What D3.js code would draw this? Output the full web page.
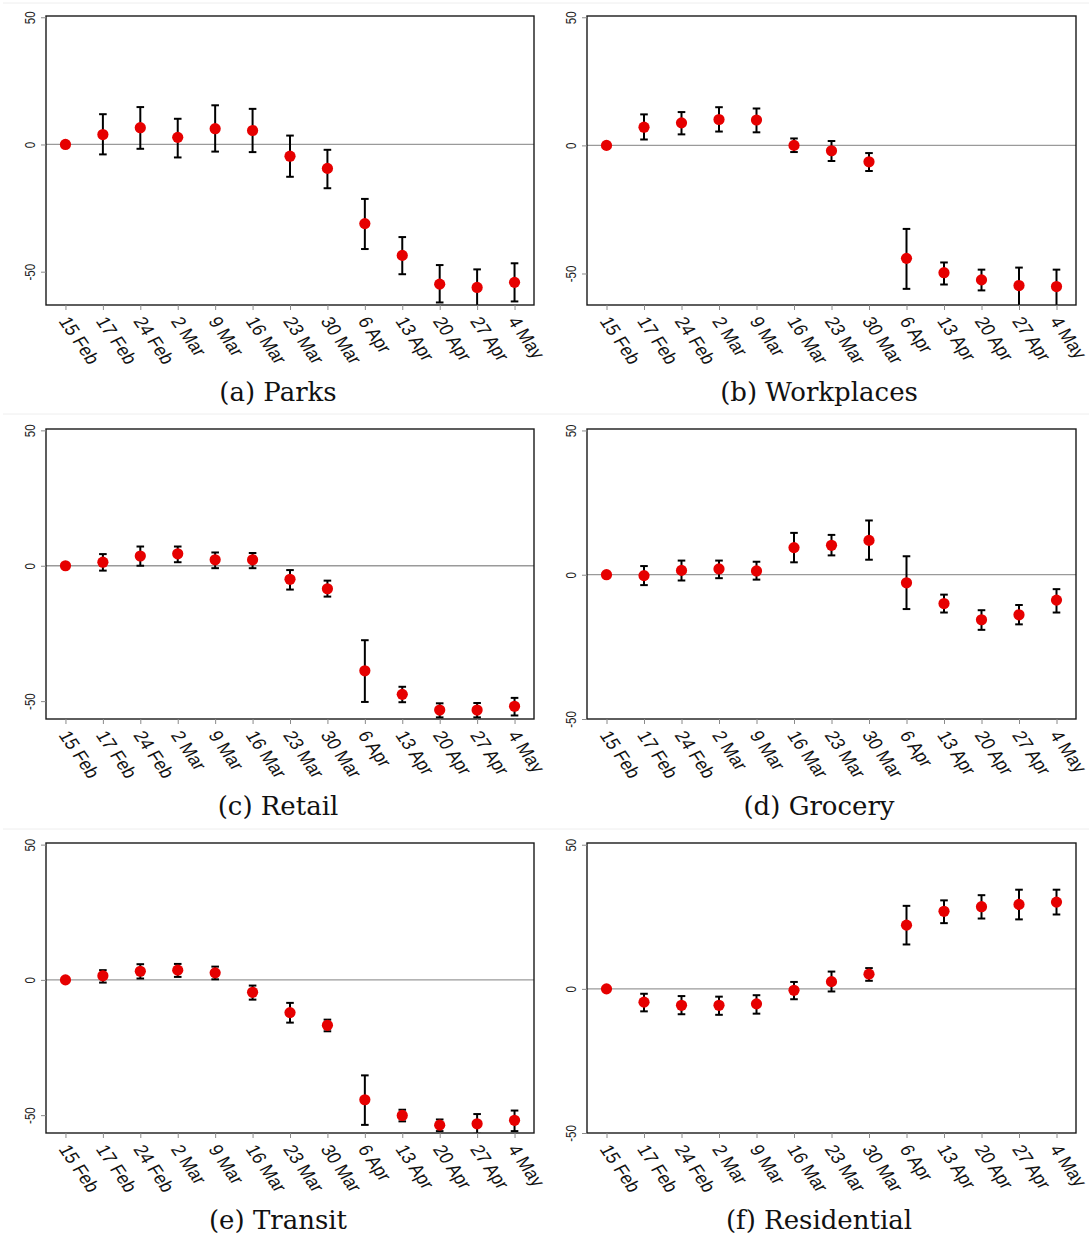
<!DOCTYPE html>
<html>
<head>
<meta charset="utf-8">
<script src="https://cdn.jsdelivr.net/npm/d3@7"></script>
<style>
  body { margin: 0; background: #fff; }
  svg { display: block; }
</style>
</head>
<body>
<script>
// Weekly mobility estimates (percent change vs. baseline week of 15 Feb) with confidence intervals
const dates = ["15 Feb", "17 Feb", "24 Feb", "2 Mar", "9 Mar", "16 Mar", "23 Mar",
               "30 Mar", "6 Apr", "13 Apr", "20 Apr", "27 Apr", "4 May"];
const yTicks = [-50, 0, 50];
const titles = ["(a) Parks", "(b) Workplaces", "(c) Retail", "(d) Grocery", "(e) Transit", "(f) Residential"];

const parksEst = [0, 3.9, 6.6, 2.8, 6.2, 5.5, -4.6, -9.4, -31.1, -43.6, -54.9, -56.2, -54.2];
const parksLo  = [null, -3.9, -1.7, -5.1, -2.8, -3.0, -12.7, -17.2, -41.1, -51.0, -62.1, -65.0, -61.7];
const parksHi  = [null, 11.9, 14.7, 10.1, 15.4, 14.0, 3.5, -2.1, -21.4, -36.4, -47.4, -49.1, -46.7];

const workEst = [0, 7.1, 8.8, 10.1, 9.9, 0.0, -2.1, -6.4, -44.1, -49.7, -52.5, -54.7, -55.1];
const workLo  = [null, 2.3, 4.3, 5.4, 5.1, -2.6, -6.1, -10.0, -56.0, -54.3, -56.6, -64.0, -64.0];
const workHi  = [null, 12.1, 13.0, 14.9, 14.4, 2.7, 1.7, -3.0, -32.6, -45.7, -48.5, -47.7, -48.5];

const retailEst = [0, 1.3, 3.6, 4.4, 2.2, 2.2, -5.0, -8.5, -38.8, -47.5, -53.3, -53.3, -51.9];
const retailLo  = [null, -1.8, 0.0, 1.3, -0.9, -0.9, -8.8, -11.4, -50.3, -50.4, -56.0, -56.0, -55.3];
const retailHi  = [null, 4.3, 7.1, 7.1, 4.9, 4.7, -1.6, -5.5, -27.5, -44.7, -50.8, -50.7, -48.8];

const groceryEst = [0, -0.3, 1.5, 2.0, 1.3, 9.4, 10.2, 11.9, -2.8, -10.0, -15.6, -13.9, -8.8];
const groceryLo  = [null, -3.6, -2.0, -1.2, -1.7, 4.3, 6.7, 5.2, -11.9, -13.1, -19.1, -17.2, -13.1];
const groceryHi  = [null, 3.0, 4.9, 4.9, 4.5, 14.5, 13.8, 18.8, 6.4, -6.9, -12.3, -10.5, -5.0];

const transitEst = [0, 1.5, 3.2, 3.6, 2.6, -4.6, -12.1, -16.8, -44.3, -50.1, -53.7, -53.2, -51.9];
const transitLo  = [null, -1.0, 0.5, 1.1, 0.2, -7.3, -15.8, -19.0, -53.6, -52.3, -55.9, -56.9, -55.9];
const transitHi  = [null, 3.6, 5.8, 5.9, 4.9, -2.1, -8.5, -14.7, -35.3, -48.0, -51.6, -49.6, -48.3];

const residEst = [0, -4.6, -5.7, -5.7, -5.2, -0.5, 2.5, 5.1, 22.1, 26.9, 28.5, 29.3, 30.1];
const residLo  = [null, -7.8, -8.8, -9.0, -8.6, -3.6, -0.9, 2.8, 15.4, 22.8, 24.4, 24.1, 25.8];
const residHi  = [null, -1.7, -2.5, -2.7, -2.2, 2.4, 6.0, 7.2, 28.8, 30.7, 32.5, 34.4, 34.4];

const series = [
  [parksEst, parksLo, parksHi],
  [workEst, workLo, workHi],
  [retailEst, retailLo, retailHi],
  [groceryEst, groceryLo, groceryHi],
  [transitEst, transitLo, transitHi],
  [residEst, residLo, residHi]
];

// Page layout: two columns, three rows of framed plots
const W = 1092, H = 1238;
const colX = [[46, 534], [587, 1076]];
const rowY = [[16, 305], [429, 719], [843, 1133]];
const titleCx = [278, 819];
const titleBase = [401, 815, 1229];
const yDomains = [[-63.1, 50.5], [-62.3, 50.5], [-56.6, 50.5], [-50, 50.5], [-56.6, 50.6], [-50, 50.6]];

const svg = d3.select("body").append("svg")
  .attr("width", W).attr("height", H)
  .attr("viewBox", `0 0 ${W} ${H}`);

// faint subfigure separators
[3, 414, 829].forEach(yy => {
  svg.append("line")
    .attr("x1", 3).attr("x2", W - 3).attr("y1", yy).attr("y2", yy)
    .attr("stroke", "#eeeeee").attr("stroke-width", 1);
});

const defs = svg.append("defs");

series.forEach(([est, lo, hi], i) => {
  const col = i % 2, row = Math.floor(i / 2);
  const [x0, x1] = colX[col];
  const [y0, y1] = rowY[row];

  const x = d3.scalePoint().domain(dates).range([x0, x1]).padding(0.52);
  const y = d3.scaleLinear().domain(yDomains[i]).range([y1, y0]);

  const g = svg.append("g");

  defs.append("clipPath").attr("id", "plot-clip-" + i)
    .append("rect").attr("x", x0).attr("y", y0)
    .attr("width", x1 - x0).attr("height", y1 - y0);

  // zero reference line
  g.append("line")
    .attr("x1", x0).attr("x2", x1)
    .attr("y1", y(0)).attr("y2", y(0))
    .attr("stroke", "#9a9a9a").attr("stroke-width", 1.3);

  const rows = dates.map((d, j) => ({ d, est: est[j], lo: lo[j], hi: hi[j] }));

  const plot = g.append("g").attr("clip-path", `url(#plot-clip-${i})`);

  // confidence intervals
  const bars = plot.selectAll("g.ci")
    .data(rows.filter(r => r.lo != null))
    .join("g").attr("class", "ci")
    .attr("stroke", "#000").attr("stroke-width", 2);
  bars.append("line")
    .attr("x1", r => x(r.d)).attr("x2", r => x(r.d))
    .attr("y1", r => y(r.lo)).attr("y2", r => y(r.hi));
  bars.append("line")
    .attr("x1", r => x(r.d) - 3.8).attr("x2", r => x(r.d) + 3.8)
    .attr("y1", r => y(r.lo)).attr("y2", r => y(r.lo));
  bars.append("line")
    .attr("x1", r => x(r.d) - 3.8).attr("x2", r => x(r.d) + 3.8)
    .attr("y1", r => y(r.hi)).attr("y2", r => y(r.hi));

  // point estimates
  plot.selectAll("circle")
    .data(rows)
    .join("circle")
    .attr("cx", r => x(r.d)).attr("cy", r => y(r.est))
    .attr("r", 5.6).attr("fill", "#e60000");

  // plot frame
  g.append("rect")
    .attr("x", x0).attr("y", y0)
    .attr("width", x1 - x0).attr("height", y1 - y0)
    .attr("fill", "none").attr("stroke", "#1a1a1a").attr("stroke-width", 1.4);

  // y axis
  const ya = g.append("g")
    .attr("transform", `translate(${x0},0)`)
    .call(d3.axisLeft(y).tickValues(yTicks).tickSize(5).tickFormat(d => String(d)));
  ya.select(".domain").remove();
  ya.selectAll(".tick line").attr("stroke", "#8a8a8a");
  ya.selectAll(".tick text")
    .attr("x", 0).attr("dy", 0)
    .attr("transform", "translate(-11,0) scale(1.2,1) rotate(-90)")
    .attr("text-anchor", "middle")
    .attr("font-family", "'Liberation Sans', Arial, sans-serif")
    .attr("font-size", 11.5)
    .attr("fill", "#222");

  // x axis with slanted date labels
  const xa = g.append("g")
    .attr("transform", `translate(0,${y1})`)
    .call(d3.axisBottom(x).tickSize(5));
  xa.select(".domain").remove();
  xa.selectAll(".tick line").attr("stroke", "#8a8a8a");
  xa.selectAll(".tick text")
    .attr("x", 0).attr("y", 0).attr("dy", "0.35em")
    .attr("transform", "translate(-2,13) scale(1.2,1) rotate(60)")
    .attr("text-anchor", "start")
    .attr("font-family", "'Liberation Sans', Arial, sans-serif")
    .attr("font-size", 16.5)
    .attr("fill", "#111");

  // subfigure caption
  svg.append("text")
    .attr("x", titleCx[col]).attr("y", titleBase[row])
    .attr("text-anchor", "middle")
    .attr("font-family", "'DejaVu Serif', serif")
    .attr("font-size", 26)
    .attr("fill", "#111")
    .text(titles[i]);
});
</script>
</body>
</html>
